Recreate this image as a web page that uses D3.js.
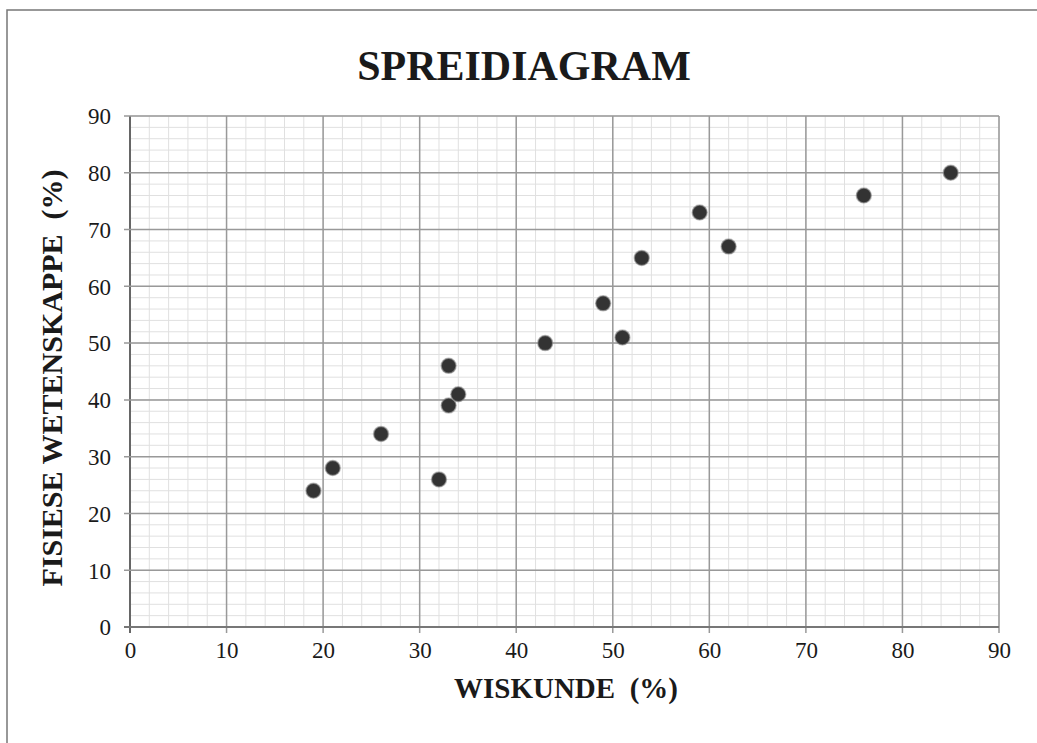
<!DOCTYPE html>
<html>
<head>
<meta charset="utf-8">
<script src="https://cdn.jsdelivr.net/npm/d3@7"></script>
<style>
  body { margin: 0; background: #fff; }
  svg text { font-family: "Liberation Serif", "Times New Roman", serif; fill: #1a1a1a; }
</style>
</head>
<body>
<svg id="chart" width="1037" height="743"></svg>
<script>
// values
const wiskunde = [19, 21, 26, 32, 33, 33, 34, 43, 49, 51, 53, 59, 62, 76, 85];
const fisiese  = [24, 28, 34, 26, 39, 46, 41, 50, 57, 51, 65, 73, 67, 76, 80];
const tickValues = [0, 10, 20, 30, 40, 50, 60, 70, 80, 90];
const minorValues = d3.range(0, 91, 2);

const svg = d3.select("#chart");
const margin = { left: 130, right: 38, top: 116, bottom: 116 };
const width = 1037, height = 743;

const x = d3.scaleLinear().domain([0, 90]).range([margin.left, width - margin.right]);
const y = d3.scaleLinear().domain([0, 90]).range([height - margin.bottom, margin.top]);

// outer frame
svg.append("path")
    .attr("d", `M7,${height} L7,10 L${width},10`)
    .attr("fill", "none")
    .attr("stroke", "#777")
    .attr("stroke-width", 1.5);

// title
svg.append("text")
    .attr("x", 524).attr("y", 80)
    .attr("text-anchor", "middle")
    .attr("font-size", 42)
    .attr("font-weight", "bold")
    .text("SPREIDIAGRAM");

const grid = svg.append("g");

// minor graph-paper lines
grid.selectAll(".minor-x").data(minorValues).enter().append("line")
    .attr("x1", d => x(d)).attr("x2", d => x(d))
    .attr("y1", y(0)).attr("y2", y(90))
    .attr("stroke", "#e0e0e0").attr("stroke-width", 1);
grid.selectAll(".minor-y").data(minorValues).enter().append("line")
    .attr("y1", d => y(d)).attr("y2", d => y(d))
    .attr("x1", x(0)).attr("x2", x(90))
    .attr("stroke", "#e0e0e0").attr("stroke-width", 1);

// major lines every 10
grid.selectAll(".major-x").data(tickValues).enter().append("line")
    .attr("x1", d => x(d)).attr("x2", d => x(d))
    .attr("y1", y(0) + 6).attr("y2", y(90))
    .attr("stroke", d => d === 0 ? "#666" : "#999")
    .attr("stroke-width", d => d === 0 ? 2 : 1.5);
grid.selectAll(".major-y").data(tickValues).enter().append("line")
    .attr("y1", d => y(d)).attr("y2", d => y(d))
    .attr("x1", x(0) - 6).attr("x2", x(90))
    .attr("stroke", d => d === 0 ? "#777" : "#999")
    .attr("stroke-width", d => d === 0 ? 2 : 1.5);

// axes (labels only, lines come from the grid)
const xAxis = svg.append("g")
    .attr("transform", `translate(0,${y(0)})`)
    .call(d3.axisBottom(x).tickValues(tickValues).tickSize(0).tickPadding(15));
const yAxis = svg.append("g")
    .attr("transform", `translate(${x(0)},0)`)
    .call(d3.axisLeft(y).tickValues(tickValues).tickSize(0).tickPadding(19));

[xAxis, yAxis].forEach(a => {
    a.select(".domain").remove();
    a.selectAll("text")
        .attr("font-size", 23)
        .attr("font-family", "Liberation Serif, Times New Roman, serif")
        .attr("fill", "#1a1a1a");
});
yAxis.selectAll("text").attr("dy", "0.34em");

// axis titles
svg.append("text")
    .attr("x", 566).attr("y", 698)
    .attr("text-anchor", "middle")
    .attr("font-size", 29)
    .attr("font-weight", "bold")
    .attr("xml:space", "preserve")
    .text("WISKUNDE  (%)");

svg.append("text")
    .attr("transform", "translate(62,378) rotate(-90)")
    .attr("text-anchor", "middle")
    .attr("font-size", 30)
    .attr("font-weight", "bold")
    .attr("xml:space", "preserve")
    .text("FISIESE WETENSKAPPE  (%)");

// points
const points = wiskunde.map((d, i) => ({ x: d, y: fisiese[i] }));
svg.append("g").selectAll("circle")
    .data(points).enter().append("circle")
    .attr("cx", d => x(d.x))
    .attr("cy", d => y(d.y))
    .attr("r", 7.5)
    .attr("fill", "#333")
    .attr("stroke", "#999")
    .attr("stroke-opacity", 0.6)
    .attr("stroke-width", 1.5);
</script>
</body>
</html>
